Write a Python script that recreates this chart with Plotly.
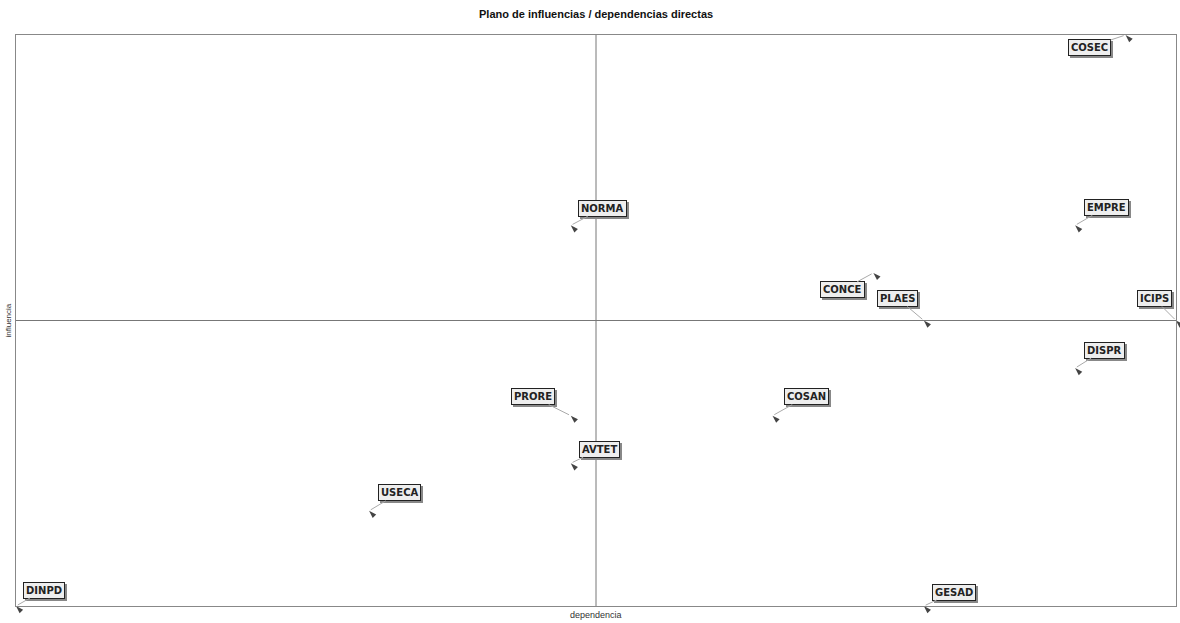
import plotly.graph_objects as go

variables = ["COSEC", "NORMA", "EMPRE", "CONCE", "PLAES", "ICIPS", "DISPR",
             "PRORE", "COSAN", "AVTET", "USECA", "DINPD", "GESAD"]
dependencia = [22, 11, 21, 17, 18, 23, 21, 11, 15, 11, 7, 0, 18]
influencia = [12, 8, 8, 7, 6, 6, 5, 4, 4, 3, 2, 0, 0]

x_range = [0, 23]
y_range = [0, 12]

# label offsets (pixels) relative to each point
label_offsets = {
    "COSEC": (-36, 12), "NORMA": (32, -17), "EMPRE": (31, -18),
    "CONCE": (-31, 17), "PLAES": (-26, -22), "ICIPS": (-22, -22),
    "DISPR": (29, -18), "PRORE": (-38, -19), "COSAN": (34, -19),
    "AVTET": (29, -14), "USECA": (30, -18), "DINPD": (28, -16),
    "GESAD": (30, -14),
}

fig = go.Figure()
fig.add_trace(go.Scatter(
    x=dependencia, y=influencia, mode="markers", text=variables,
    marker=dict(symbol="arrow", angle=-45, size=8, color="#444444"),
    cliponaxis=False, hoverinfo="text", showlegend=False,
))

annotations = []
for name, xv, yv in zip(variables, dependencia, influencia):
    ax, ay = label_offsets[name]
    annotations.append(dict(
        x=xv, y=yv, xref="x", yref="y", text="<b>" + name + "</b>", showarrow=False,
        xshift=ax + 2, yshift=-ay - 2,
        font=dict(family="DejaVu Sans", size=10, color="#777777"),
        bgcolor="#888888", bordercolor="#888888", borderwidth=1, borderpad=2,
    ))
for name, xv, yv in zip(variables, dependencia, influencia):
    ax, ay = label_offsets[name]
    annotations.append(dict(
        x=xv, y=yv, xref="x", yref="y", text="<b>" + name + "</b>", showarrow=True,
        ax=ax, ay=ay, arrowhead=0, arrowwidth=1, arrowcolor="#aaaaaa",
        standoff=2,
        font=dict(family="DejaVu Sans", size=10, color="#222222"),
        bgcolor="#eeeeee", bordercolor="#222222", borderwidth=1, borderpad=2,
    ))

annotations += [
    dict(text="<b>Plano de influencias / dependencias directas</b>", xref="paper", yref="paper",
         x=0.5, y=1, yshift=21, yanchor="middle", showarrow=False,
         font=dict(family="Liberation Sans", size=11, color="#111111")),
    dict(text="dependencia", xref="paper", yref="paper", x=0.5, y=0, yshift=-9,
         yanchor="middle", showarrow=False,
         font=dict(family="Liberation Sans", size=9, color="#333333")),
    dict(text="influencia", xref="paper", yref="paper", x=0, y=0.5, xshift=-8,
         xanchor="center", yanchor="middle", textangle=-90, showarrow=False,
         font=dict(family="Liberation Sans", size=8, color="#333333")),
]

fig.update_layout(
    width=1180, height=623,
    margin=dict(l=16, r=4, t=35, b=17),
    paper_bgcolor="white", plot_bgcolor="white",
    annotations=annotations,
    shapes=[
        dict(type="line", xref="x", yref="paper", x0=sum(x_range) / 2, x1=sum(x_range) / 2,
             y0=0, y1=1, line=dict(color="#777777", width=1)),
        dict(type="line", xref="paper", yref="y", x0=0, x1=1,
             y0=sum(y_range) / 2, y1=sum(y_range) / 2, line=dict(color="#777777", width=1)),
    ],
)
fig.update_xaxes(range=x_range, showgrid=False, zeroline=False, showticklabels=False,
                 ticks="", showline=True, mirror=True, linecolor="#888888", linewidth=1)
fig.update_yaxes(range=y_range, showgrid=False, zeroline=False, showticklabels=False,
                 ticks="", showline=True, mirror=True, linecolor="#888888", linewidth=1)

fig.write_html("out.html", config={"displayModeBar": False},
               post_script="document.body.style.margin='0';document.body.style.overflow='hidden';")
